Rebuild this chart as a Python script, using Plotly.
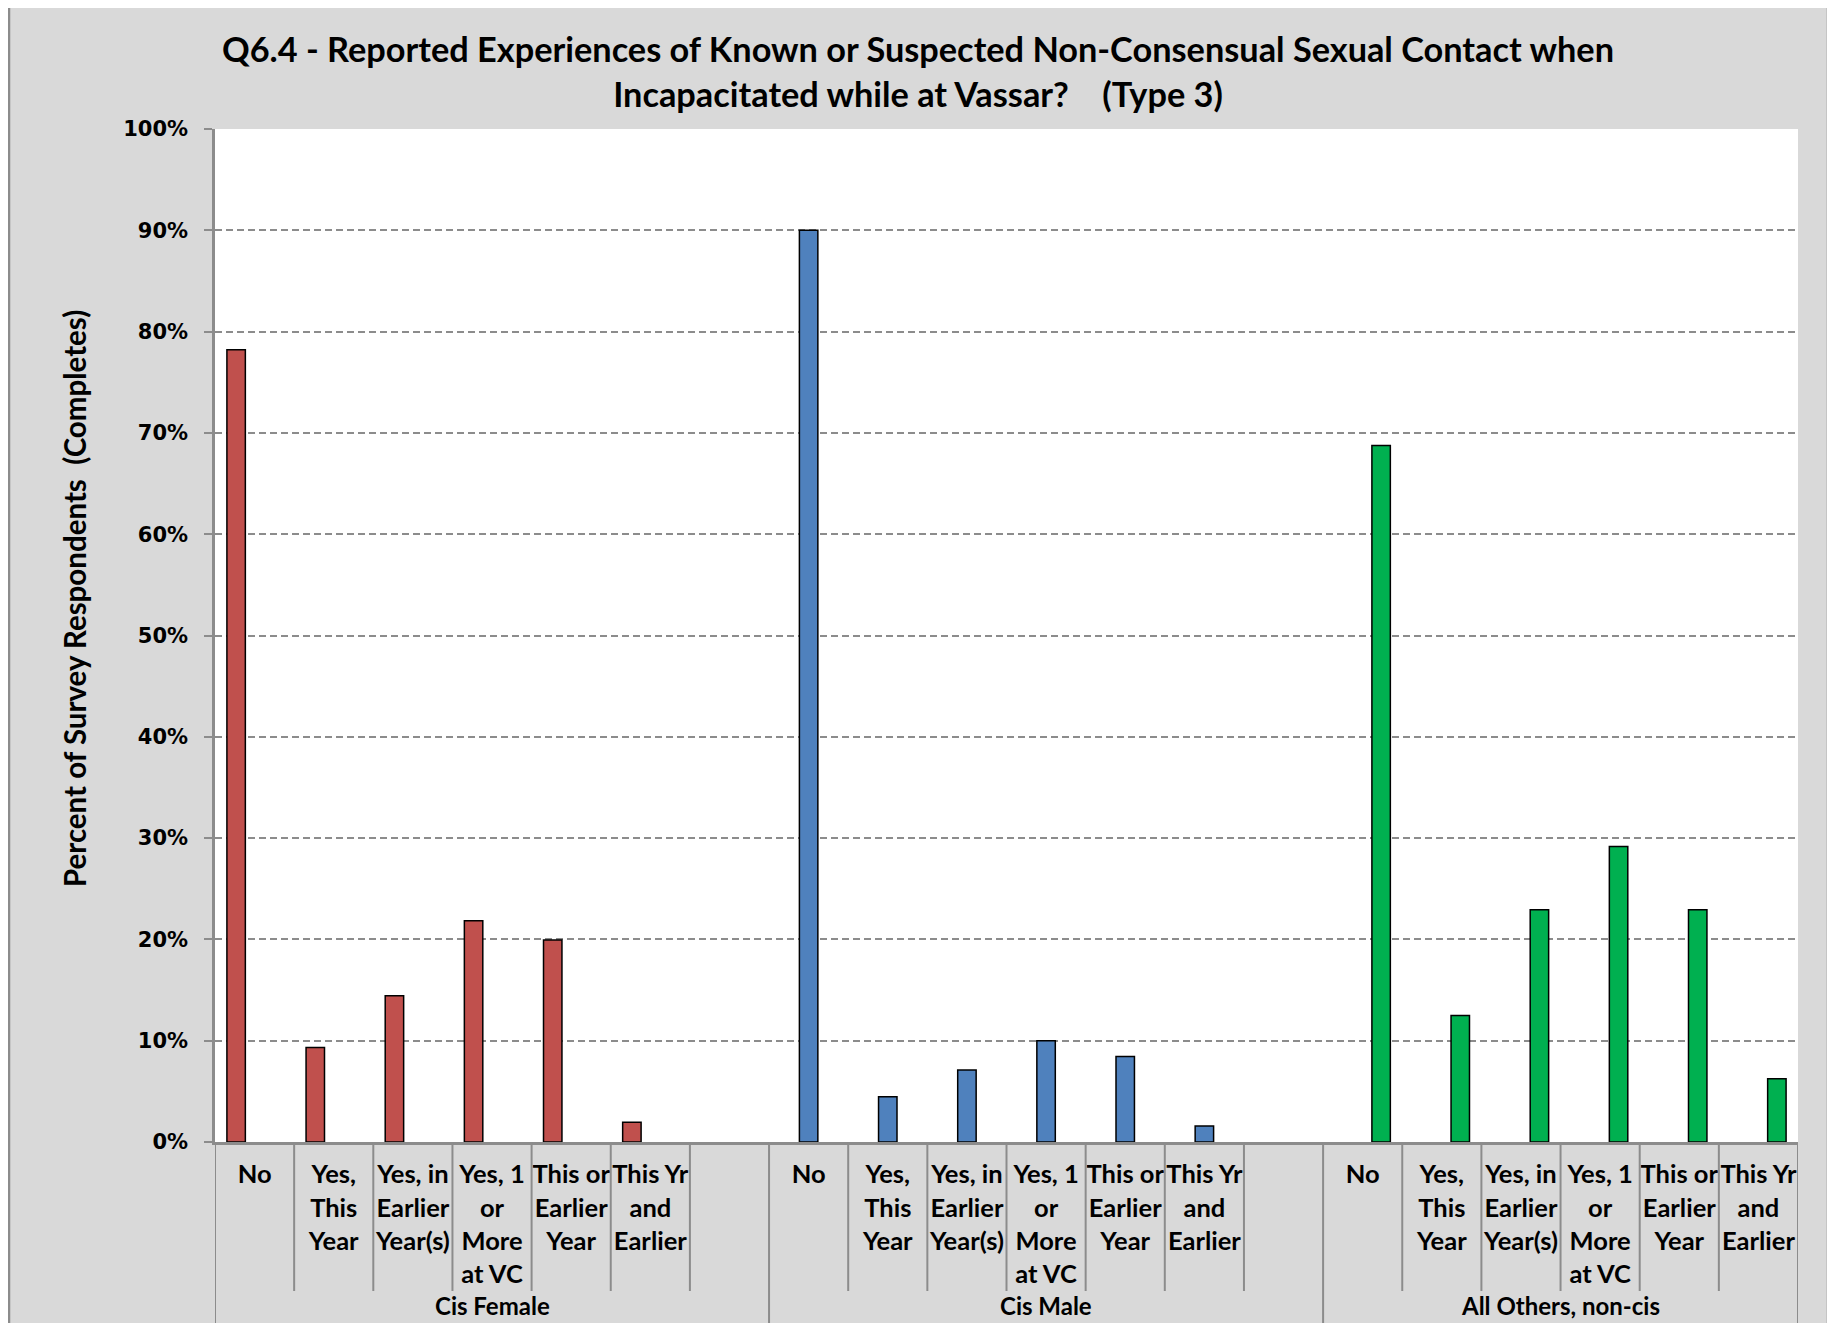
import plotly.graph_objects as go

# ---------------- data ----------------
groups = ["Cis Female", "Cis Male", "All Others, non-cis"]
categories = ["No", "Yes,<br>This<br>Year", "Yes, in<br>Earlier<br>Year(s)",
              "Yes, 1<br>or<br>More<br>at VC", "This or<br>Earlier<br>Year",
              "This Yr<br>and<br>Earlier"]
cis_female = [0.782, 0.0934, 0.1444, 0.2185, 0.1994, 0.0194]
cis_male = [0.900, 0.0447, 0.0710, 0.1000, 0.0845, 0.0158]
all_others = [0.6875, 0.1250, 0.2292, 0.2917, 0.2292, 0.0625]
series_values = [cis_female, cis_male, all_others]
colors = ["#C0504D", "#4F81BD", "#00B050"]
title_text = ("Q6.4 - Reported Experiences of Known or Suspected Non-Consensual Sexual Contact when"
              "<br>Incapacitated while at Vassar?\u00a0\u00a0\u00a0\u00a0(Type 3)")
y_title = "Percent of Survey Respondents  (Completes)"

# ---------------- layout geometry ----------------
O = 8  # browser body margin
WIN_W, WIN_H = 1835, 1323
W, H = WIN_W - O, WIN_H - O
# plot area in window pixels
PX0, PX1, PY0, PY1 = 215, 1798, 129, 1142
L, R, T, B = PX0 - O, W - (PX1 - O), PY0 - O, H - (PY1 - O)
PW, PH = W - L - R, H - T - B

def pxx(px):  # window pixel -> paper x
    return (px - O - L) / PW

def pxy(py):  # window pixel -> paper y
    return (H - B - (py - O)) / PH

slots_per_group = len(categories) + 1
n_slots = slots_per_group * (len(groups) - 1) + len(categories)
bar_w = 0.233

fig = go.Figure()
tickvals, ticktext = [], []
for gi, (gname, vals, col) in enumerate(zip(groups, series_values, colors)):
    start = gi * slots_per_group
    xs = [start + j for j in range(len(vals))]
    fig.add_trace(go.Bar(x=xs, y=vals, name=gname, width=bar_w, offset=-1.5 * bar_w + gi * bar_w,
                         marker=dict(color=col, line=dict(color="black", width=1.5))))
for s in range(n_slots):
    pos = s % slots_per_group
    tickvals.append(s)
    ticktext.append(categories[pos] if pos < len(categories) else "")

GRAY = "#8C8C8C"
shapes = []
# white strips outside chart frame
shapes.append(dict(type="rect", xref="paper", yref="paper", x0=pxx(0), x1=pxx(9), y0=pxy(WIN_H + 10), y1=pxy(0),
                   fillcolor="white", line=dict(width=0), layer="below"))
shapes.append(dict(type="rect", xref="paper", yref="paper", x0=pxx(1828), x1=pxx(WIN_W + 10), y0=pxy(WIN_H + 10),
                   y1=pxy(0), fillcolor="white", line=dict(width=0), layer="below"))
# frame
for (x0, y0, x1, y1) in [(9, 4, 9, WIN_H + 10), (1828, 4, 1828, WIN_H + 10)]:
    shapes.append(dict(type="line", xref="paper", yref="paper", x0=pxx(x0), x1=pxx(x1), y0=pxy(y0), y1=pxy(y1),
                       line=dict(color=GRAY, width=2.5)))
# category dividers
group_bounds = {0, slots_per_group, 2 * slots_per_group, n_slots}
for b in range(n_slots + 1):
    yb = WIN_H + 10 if b in group_bounds else 1291
    shapes.append(dict(type="line", xref="x", yref="paper", x0=b - 0.5, x1=b - 0.5, y0=pxy(PY1), y1=pxy(yb),
                       line=dict(color=GRAY, width=2)))

annotations = []
# group labels
for gi, gname in enumerate(groups):
    start = gi * slots_per_group
    center = start + (len(categories) - 1 + (1 if gi < len(groups) - 1 else 0)) / 2
    annotations.append(dict(x=center, xref="x", y=pxy(1322), yref="paper", yanchor="bottom", text=gname,
                            showarrow=False, font=dict(family="Lato", size=24, color="black", weight="bold")))
# y axis title
annotations.append(dict(x=pxx(74), xref="paper", y=pxy(599), yref="paper", text=y_title, textangle=-90,
                        showarrow=False, xanchor="center", yanchor="middle",
                        font=dict(family="Lato", size=29.5, color="black", weight="bold")))

fig.update_layout(
    width=W, height=H,
    margin=dict(l=L, r=R, t=T, b=B, pad=0),
    paper_bgcolor="#D9D9D9", plot_bgcolor="white",
    barmode="overlay",
    showlegend=False,
    title=dict(text=title_text, x=pxx(918), xref="paper", xanchor="center",
               y=1 - 54 / H, yref="container", yanchor="middle",
               font=dict(family="Lato", size=34.3, color="black", weight="bold")),
    xaxis=dict(range=[-0.5, n_slots - 0.5], showgrid=False, zeroline=False, showline=True,
               linecolor=GRAY, linewidth=2.5, ticks="", tickvals=tickvals, ticktext=ticktext,
               tickangle=0,
               tickfont=dict(family="Lato", size=25.5, color="black", weight="bold"),
               ticklabelstandoff=8),
    yaxis=dict(range=[0, 1], dtick=0.1, tickformat=".0%", showgrid=True, gridcolor=GRAY,
               griddash="7px,4px", gridwidth=1.5, zeroline=False, showline=True, linecolor=GRAY,
               linewidth=2.5, ticks="outside", ticklen=8, tickcolor=GRAY, tickwidth=2,
               tickfont=dict(family="DejaVu Sans", size=21, color="black", weight="bold"),
               ticklabelstandoff=12),
    shapes=shapes, annotations=annotations,
)
fig.write_html("out.html")
